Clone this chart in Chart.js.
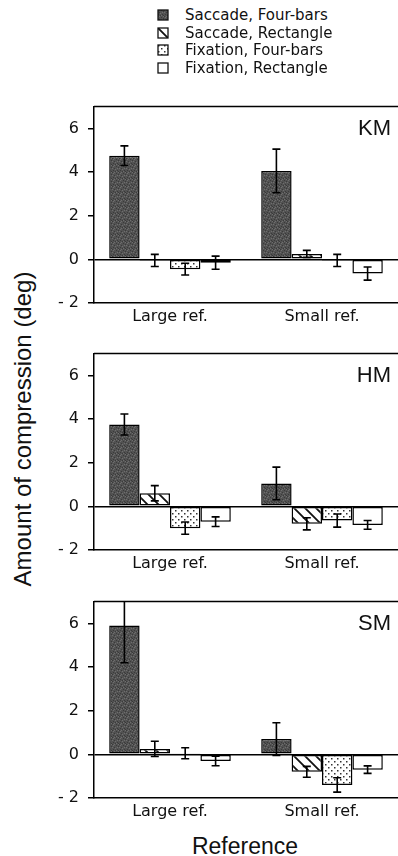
<!DOCTYPE html>
<html>
<head>
<meta charset="utf-8">
<script src="https://cdn.jsdelivr.net/npm/chart.js@4.4.0/dist/chart.umd.min.js"></script>
<style>
  body { margin: 0; background: #fff; width: 398px; height: 856px; position: relative; overflow: hidden; }
  .panel { position: absolute; left: 0; }
  .legend-row { position: absolute; left: 157px; height: 18px; font: 15px "DejaVu Sans", sans-serif; color: #111;
    display: flex; align-items: center; white-space: nowrap; }
  .legend-row canvas { margin-right: 16px; }
  #ytitle { position: absolute; left: -177px; top: 415px; width: 400px; height: 28px; line-height: 28px; text-align: center;
    font: 24px "Liberation Sans", Arial, sans-serif; color: #111; transform: rotate(-90deg); }
  #xtitle { position: absolute; left: 145px; top: 833px; width: 200px; line-height: 26px; text-align: center;
    font: 23px "Liberation Sans", Arial, sans-serif; color: #111; }
</style>
</head>
<body>
<div id="legend"></div>
<div id="ytitle">Amount of compression (deg)</div>
<canvas id="km" class="panel" width="398" height="240" style="top:88px"></canvas>
<canvas id="hm" class="panel" width="398" height="240" style="top:335px"></canvas>
<canvas id="sm" class="panel" width="398" height="240" style="top:583px"></canvas>
<div id="xtitle">Reference</div>
<script>
const groups = ['Large ref.', 'Small ref.'];
const seriesNames = ['Saccade, Four-bars', 'Saccade, Rectangle', 'Fixation, Four-bars', 'Fixation, Rectangle'];
const yTicks = [-2, 0, 2, 4, 6];

// each row is one series: [Large ref., Small ref.]
const kmMeans = [[4.75, 4.05], [-0.05, 0.25], [-0.45, -0.05], [-0.15, -0.65]];
const kmErrors = [[0.45, 1.0], [0.28, 0.16], [0.27, 0.28], [0.3, 0.3]];

const hmMeans = [[3.75, 1.05], [0.6, -0.8], [-1.0, -0.65], [-0.7, -0.85]];
const hmErrors = [[0.48, 0.75], [0.35, 0.28], [0.28, 0.3], [0.22, 0.2]];

const smMeans = [[5.9, 0.7], [0.25, -0.8], [0.05, -1.4], [-0.3, -0.7]];
const smErrors = [[1.7, 0.75], [0.35, 0.25], [0.25, 0.33], [0.22, 0.17]];

function tile(size, draw) {
  const c = document.createElement('canvas');
  c.width = size; c.height = size;
  draw(c.getContext('2d'), size);
  return c;
}

// speckled dark grey, fixed pixel layout
const darkTile = tile(7, (g, s) => {
  g.fillStyle = '#525252'; g.fillRect(0, 0, s, s);
  g.fillStyle = '#3a3a3a';
  [[0, 0], [4, 1], [2, 3], [6, 2], [1, 5], [5, 5], [3, 6], [6, 6]].forEach(p => g.fillRect(p[0], p[1], 1, 1));
  g.fillStyle = '#6e6e6e';
  [[2, 0], [5, 3], [0, 3], [3, 4], [6, 0], [1, 1], [4, 6]].forEach(p => g.fillRect(p[0], p[1], 1, 1));
});
const hatchTile = tile(11, (g, s) => {
  g.fillStyle = '#fff'; g.fillRect(0, 0, s, s);
  g.strokeStyle = '#111'; g.lineWidth = 1.8;
  g.beginPath();
  g.moveTo(-1, -1); g.lineTo(s + 1, s + 1);
  g.moveTo(-1, s - 1); g.lineTo(1, s + 1);
  g.moveTo(s - 1, -1); g.lineTo(s + 1, 1);
  g.stroke();
});
const dotTile = tile(6, (g, s) => {
  g.fillStyle = '#fff'; g.fillRect(0, 0, s, s);
  g.fillStyle = '#333';
  g.fillRect(1, 1, 1.5, 1.5);
  g.fillRect(4, 4, 1.5, 1.5);
});

function fillsFor(ctx) {
  return [
    ctx.createPattern(darkTile, 'repeat'),
    ctx.createPattern(hatchTile, 'repeat'),
    ctx.createPattern(dotTile, 'repeat'),
    '#fff'
  ];
}

// legend
const legend = document.getElementById('legend');
const legendY = [6, 24, 41, 59];
seriesNames.forEach((name, i) => {
  const row = document.createElement('div');
  row.className = 'legend-row';
  row.style.top = legendY[i] + 'px';
  const sw = document.createElement('canvas');
  sw.width = 12; sw.height = 12;
  const g = sw.getContext('2d');
  g.fillStyle = fillsFor(g)[i];
  g.fillRect(1, 1, 10, 10);
  g.strokeStyle = '#111'; g.lineWidth = 1.3;
  g.strokeRect(1, 1, 10, 10);
  row.appendChild(sw);
  row.appendChild(document.createTextNode(name));
  legend.appendChild(row);
});

const errorBarPlugin = {
  id: 'errorBars',
  afterDatasetsDraw(chart) {
    const { ctx, chartArea: a, scales: { y } } = chart;
    ctx.save();
    ctx.beginPath();
    ctx.rect(a.left, a.top, a.right - a.left, a.bottom - a.top);
    ctx.clip();
    ctx.strokeStyle = '#000';
    ctx.lineWidth = 1.6;
    chart.data.datasets.forEach((ds, i) => {
      chart.getDatasetMeta(i).data.forEach((bar, j) => {
        const hi = y.getPixelForValue(ds.data[j] + ds.errorBars[j]);
        const lo = y.getPixelForValue(ds.data[j] - ds.errorBars[j]);
        ctx.beginPath();
        ctx.moveTo(bar.x, hi); ctx.lineTo(bar.x, lo);
        ctx.moveTo(bar.x - 4, hi); ctx.lineTo(bar.x + 4, hi);
        ctx.moveTo(bar.x - 4, lo); ctx.lineTo(bar.x + 4, lo);
        ctx.stroke();
      });
    });
    ctx.restore();
  }
};

const framePlugin = {
  id: 'frame',
  afterDraw(chart, args, opts) {
    const { ctx, chartArea: a } = chart;
    ctx.save();
    ctx.strokeStyle = '#000';
    ctx.lineWidth = 1.5;
    ctx.beginPath();
    ctx.moveTo(a.left, a.top);
    ctx.lineTo(a.right, a.top);
    ctx.stroke();
    ctx.fillStyle = '#111';
    ctx.font = '22px "Liberation Sans", Arial, sans-serif';
    ctx.textAlign = 'right';
    ctx.textBaseline = 'alphabetic';
    ctx.fillText(opts.text, a.right - 7, a.top + 28);
    ctx.restore();
  }
};

function makeChart(id, title, means, errors) {
  const canvas = document.getElementById(id);
  const fills = fillsFor(canvas.getContext('2d'));
  new Chart(canvas, {
    type: 'bar',
    data: {
      labels: groups,
      datasets: seriesNames.map((name, i) => ({
        label: name,
        data: means[i],
        errorBars: errors[i],
        backgroundColor: fills[i],
        borderColor: '#000',
        borderWidth: 1.5,
        borderSkipped: false,
        categoryPercentage: 0.8,
        barPercentage: 1.0
      }))
    },
    options: {
      responsive: false,
      animation: false,
      events: [],
      layout: { padding: { top: 12, left: 0, right: 0, bottom: 0 } },
      plugins: {
        legend: { display: false },
        tooltip: { enabled: false },
        frame: { text: title }
      },
      scales: {
        x: {
          grid: { color: 'transparent', drawTicks: false },
          border: { color: '#000', width: 1.5 },
          ticks: { color: '#111', font: { family: 'DejaVu Sans', size: 16 }, padding: 4, maxRotation: 0 },
          afterFit: s => { s.height = 25; }
        },
        y: {
          min: -2,
          max: 7,
          afterBuildTicks: s => { s.ticks = yTicks.map(v => ({ value: v })); },
          grid: {
            color: c => (c.tick && c.tick.value === 0 ? '#000' : 'transparent'),
            lineWidth: 1.5,
            tickColor: '#000',
            tickLength: 6,
            tickWidth: 1.5
          },
          border: { color: '#000', width: 1.5 },
          ticks: {
            color: '#111',
            font: { family: 'DejaVu Sans', size: 16 },
            padding: 9,
            callback: v => (v < 0 ? '- ' + Math.abs(v) : String(v))
          },
          afterFit: s => { s.width = 94; }
        }
      }
    },
    plugins: [errorBarPlugin, framePlugin]
  });
}

makeChart('km', 'KM', kmMeans, kmErrors);
makeChart('hm', 'HM', hmMeans, hmErrors);
makeChart('sm', 'SM', smMeans, smErrors);
</script>
</body>
</html>
